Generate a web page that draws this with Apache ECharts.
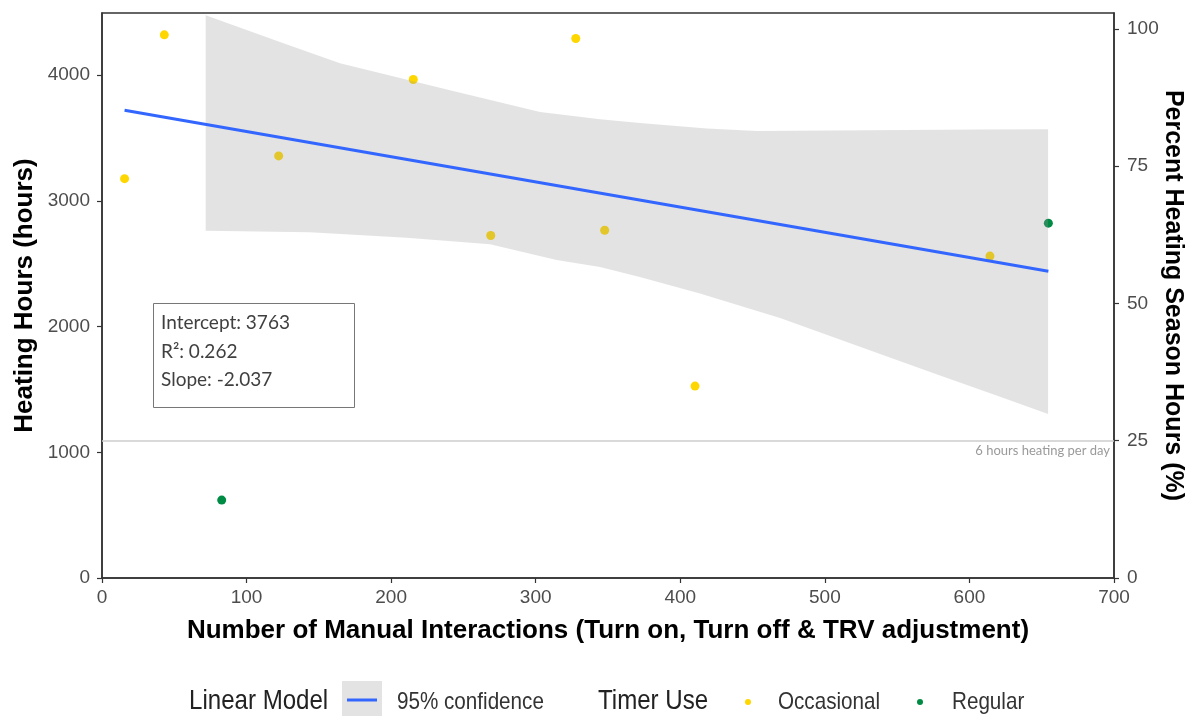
<!DOCTYPE html>
<html>
<head>
<meta charset="utf-8">
<script src="https://cdn.jsdelivr.net/npm/echarts@6/dist/echarts.min.js"></script>
<style>
html,body{margin:0;padding:0;background:#fff;overflow:hidden;}
#chart{width:1190px;height:716px;}
</style>
</head>
<body>
<div id="chart"></div>
<script>
// ---- data ----
const occasionalX = [15.6, 43.1, 122.2, 215.3, 268.9, 327.7, 347.7, 410.2, 614.2];
const occasionalY = [3177, 4321, 3358, 3966, 2725, 4292, 2767, 1527, 2561];
const regularX = [82.8, 654.6];
const regularY = [620, 2823];
const fitX = [15.6, 654.6];
const fitY = [3722, 2440];
const bandUpperX = [71.7, 123.1, 164.6, 240.7, 303.0, 344.5, 372.0, 418.3, 452.9, 607.3, 654.4];
const bandUpperY = [4477, 4265, 4095, 3881, 3708, 3650, 3620, 3576, 3557, 3568, 3570];
const bandLowerX = [71.7, 143.9, 210.7, 268.4, 314.5, 344.5, 372.0, 413.6, 469.0, 524.3, 574.8, 621.2, 654.4];
const bandLowerY = [2762, 2751, 2706, 2656, 2529, 2475, 2395, 2264, 2068, 1840, 1630, 1442, 1304];
const xTicks = [0, 100, 200, 300, 400, 500, 600, 700];
const leftTicks = [0, 1000, 2000, 3000, 4000];
const rightTicks = [0, 25, 50, 75, 100];
const referenceHours = 1092;
const referenceLabel = '6 hours heating per day';
const statLines = ['Intercept: 3763', 'R²: 0.262', 'Slope: -2.037'];

const Y_MAX = 4495;          // axis extent (hours)
const SEASON_HOURS = 4368;   // 100 % of heating season

const zip = (xs, ys) => xs.map((x, i) => [x, ys[i]]);

const chart = echarts.init(document.getElementById('chart'), null, {renderer: 'canvas', width: 1190, height: 716});

const sans = 'Liberation Sans, Arial, sans-serif';
const tickLabelStyle = {fontFamily: sans, fontSize: 19, color: '#4d4d4d', formatter: v => String(v)};
const titleStyle = {fontFamily: sans, fontWeight: 'bold', color: '#000'};

function legendText(left, text, size, color) {
  return {type: 'text', left: left, top: 704 - size * 0.58, scaleX: 0.86,
    style: {text: text, fontFamily: sans, fontSize: size, fill: color}};
}

const option = {
  animation: false,
  backgroundColor: '#fff',
  grid: {left: 102, right: 76, top: 13, bottom: 138, outerBoundsMode: 'none', containLabel: false,
    show: true, borderColor: '#333', borderWidth: 1.5, backgroundColor: 'transparent'},
  xAxis: {
    type: 'value', min: 0, max: 700, interval: 100,
    axisLine: {show: true, lineStyle: {color: '#333', width: 1.5}},
    axisTick: {show: true, length: 5, lineStyle: {color: '#333', width: 1.2}, customValues: xTicks},
    axisLabel: Object.assign({margin: 10, customValues: xTicks}, tickLabelStyle),
    splitLine: {show: false},
    name: 'Number of Manual Interactions (Turn on, Turn off & TRV adjustment)',
    nameLocation: 'middle', nameGap: 40,
    nameTextStyle: Object.assign({fontSize: 26}, titleStyle)
  },
  yAxis: [{
    type: 'value', min: 0, max: Y_MAX, position: 'left',
    axisLine: {show: true, lineStyle: {color: '#333', width: 1.5}},
    axisTick: {show: true, length: 5, lineStyle: {color: '#333', width: 1.2}, customValues: leftTicks},
    axisLabel: Object.assign({margin: 12, customValues: leftTicks}, tickLabelStyle),
    splitLine: {show: false},
    name: 'Heating Hours (hours)', nameLocation: 'middle', nameGap: 64, nameMoveOverlap: false,
    nameTextStyle: Object.assign({fontSize: 26}, titleStyle)
  }, {
    type: 'value', min: 0, max: Y_MAX / SEASON_HOURS * 100, position: 'right',
    axisLine: {show: true, lineStyle: {color: '#333', width: 1.5}},
    axisTick: {show: true, length: 5, lineStyle: {color: '#333', width: 1.2}, customValues: rightTicks},
    axisLabel: Object.assign({margin: 13, customValues: rightTicks}, tickLabelStyle),
    splitLine: {show: false},
    name: 'Percent Heating Season Hours (%)', nameLocation: 'middle', nameGap: 46, nameRotate: -90, nameMoveOverlap: false,
    nameTextStyle: Object.assign({fontSize: 25}, titleStyle)
  }],
  series: [
    {
      type: 'line', name: 'ref', data: [], silent: true,
      markLine: {
        silent: true, symbol: 'none', animation: false,
        lineStyle: {color: '#cccccc', width: 1.5, type: 'solid'},
        label: {show: true, position: 'insideEndBottom', formatter: referenceLabel, color: '#9a9a9a', fontSize: 13, fontFamily: 'Lato, sans-serif', distance: 4},
        data: [{yAxis: referenceHours}]
      },
      z: 1
    },
    {
      type: 'scatter', name: 'Occasional', data: zip(occasionalX, occasionalY),
      symbolSize: 9, itemStyle: {color: '#FFD700', opacity: 1}, z: 2
    },
    {
      type: 'scatter', name: 'Regular', data: zip(regularX, regularY),
      symbolSize: 9, itemStyle: {color: '#008B45', opacity: 1}, z: 2
    },
    {
      type: 'custom', name: 'band', z: 3, silent: true,
      data: [[bandUpperX[0], bandUpperY[0]]],
      renderItem: function (params, api) {
        const up = zip(bandUpperX, bandUpperY).map(p => api.coord(p));
        const lo = zip(bandLowerX, bandLowerY).map(p => api.coord(p)).reverse();
        return {
          type: 'polygon',
          shape: {points: up.concat(lo)},
          style: {fill: 'rgba(153,153,153,0.27)', stroke: null}
        };
      }
    },
    {
      type: 'line', name: '95% confidence', data: zip(fitX, fitY),
      symbol: 'none', lineStyle: {color: '#3366FF', width: 3}, z: 4
    }
  ],
  graphic: [
    // model annotation box
    {type: 'rect', left: 153, top: 303, shape: {width: 201, height: 104}, style: {fill: '#fff', stroke: '#777', lineWidth: 1}, z: 10},
    {type: 'text', left: 161, top: 309, z: 11,
      style: {text: statLines.join('\n'), fontFamily: 'Lato, sans-serif', fontSize: 19, lineHeight: 28.5, fill: '#404040'}},
    // legend
    legendText(189, 'Linear Model', 28, '#222'),
    {type: 'rect', left: 342, top: 681, shape: {width: 40, height: 35}, style: {fill: '#e3e3e3'}},
    {type: 'line', shape: {x1: 347, y1: 700, x2: 377, y2: 700}, style: {stroke: '#3366FF', lineWidth: 3}},
    legendText(397, '95% confidence', 24, '#333'),
    legendText(598, 'Timer Use', 28, '#222'),
    {type: 'circle', shape: {cx: 748, cy: 702, r: 3}, style: {fill: '#FFD700'}},
    legendText(778, 'Occasional', 24, '#333'),
    {type: 'circle', shape: {cx: 920, cy: 702, r: 3}, style: {fill: '#008B45'}},
    legendText(952, 'Regular', 24, '#333')
  ]
};
chart.setOption(option);
</script>
</body>
</html>
